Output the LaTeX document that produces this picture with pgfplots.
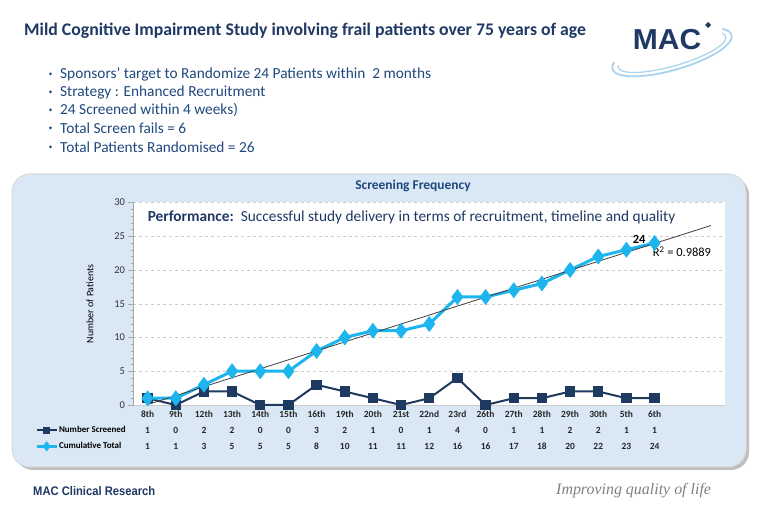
\documentclass[border=0pt]{standalone}
\usepackage{pgfplots}
\pgfplotsset{compat=1.18}
\usepackage{fontspec}
\setmainfont{Carlito}
\newfontfamily\arialf{Liberation Sans}
\newfontfamily\seriff{Liberation Serif}
\definecolor{navy}{HTML}{1F3864}
\definecolor{txtblue}{HTML}{1F497D}
\definecolor{panelblue}{HTML}{DAE7F5}
\definecolor{cyanl}{HTML}{1CB5EE}
\definecolor{navyl}{HTML}{1F3A60}
\definecolor{swoosh}{HTML}{A9D3EE}
\newcommand\tl[3]{\vphantom{Th}#1\\#2\\#3}
\begin{document}
\begin{tikzpicture}
\useasboundingbox (0,0) rectangle (768bp,526bp);
\fill[white] (0,0) rectangle (768bp,526bp);
\begin{scope}[x=1bp,y=-1bp,yshift=526bp]
 \node[anchor=west,inner sep=0,text=navy,font=\fontsize{17.8}{20}\selectfont\bfseries] at (24,31) {Mild Cognitive Impairment Study involving frail patients over 75 years of age};
 \begin{scope}[every node/.style={anchor=west,inner sep=0,text=txtblue,font=\fontsize{15.4}{17}\selectfont}]
  \node at (60,74) {Sponsors’ target to Randomize 24 Patients within \ 2 months};
  \node at (60,92) {Strategy : Enhanced Recruitment};
  \node at (60,110) {24 Screened within 4 weeks)};
  \node at (60,128) {Total Screen fails = 6};
  \node at (60,147) {Total Patients Randomised = 26};
 \end{scope}
 \foreach \yy in {74,92,110,128,147} \fill[txtblue] (50.5,\yy) circle[radius=1.5bp];
 % panel
 \fill[gray!50, rounded corners=18bp] (15,177) rectangle (749,470);
 \filldraw[fill=panelblue, draw=gray!30, line width=1bp, rounded corners=18bp] (12,174) rectangle (746,467);
 \node[inner sep=0,text=txtblue,font=\fontsize{13.5}{15}\selectfont\bfseries] at (413,186) {Screening Frequency};
 % footer
 \node[anchor=west,inner sep=0,text=navy,font=\arialf\bfseries\fontsize{12.5}{14}\selectfont] at (33,491) {\scalebox{0.9}[1]{MAC Clinical Research}};
 \node[anchor=west,inner sep=0,text=gray,font=\seriff\itshape\fontsize{16}{18}\selectfont] at (556,491) {Improving quality of life};
\end{scope}
% logo
\begin{scope}[rotate around={16:(672bp,474bp)}]
 \draw[swoosh, line width=1.8bp] (672bp,474bp) ++(160:62bp and 18bp) arc[start angle=160, end angle=388, x radius=62bp, y radius=18bp];
 \draw[swoosh, line width=1.2bp] (672bp,474bp) ++(172:56bp and 14bp) arc[start angle=172, end angle=378, x radius=56bp, y radius=14bp];
\end{scope}
\node[inner sep=0,text=navy,font=\arialf\bfseries\fontsize{29}{29}\selectfont] at (667bp,486bp) {\scalebox{1.04}[1]{MAC}};
\fill[navy] (708bp,504bp) -- (711bp,501bp) -- (708bp,498bp) -- (705bp,501bp) -- cycle;
% chart
\begin{axis}[
 at={(133.5bp,121bp)}, anchor=south west, scale only axis,
 width=591.5bp, height=202.5bp,
 xmin=-0.5, xmax=20.5, ymin=0, ymax=30,
 clip=false,
 axis x line*=bottom, axis y line*=left,
 x axis line style={draw=gray!40},
 y axis line style={draw=gray!70},
 axis background/.style={fill=white},
 ytick={0,5,...,30}, minor y tick num=4,
 tick align=outside, tickpos=left,
 major tick length=5bp, minor tick length=3bp,
 y tick style={gray!70},
 xtick={0,...,18},
 x tick style={draw=none},
 xticklabels={{\tl{8th}{1}{1}},{\tl{9th}{0}{1}},{\tl{12th}{2}{3}},{\tl{13th}{2}{5}},{\tl{14th}{0}{5}},{\tl{15th}{0}{5}},{\tl{16th}{3}{8}},{\tl{19th}{2}{10}},{\tl{20th}{1}{11}},{\tl{21st}{0}{11}},{\tl{22nd}{1}{12}},{\tl{23rd}{4}{16}},{\tl{26th}{0}{16}},{\tl{27th}{1}{17}},{\tl{28th}{1}{18}},{\tl{29th}{2}{20}},{\tl{30th}{2}{22}},{\tl{5th}{1}{23}},{\tl{6th}{1}{24}}},
 xticklabel style={align=center, font=\bfseries\fontsize{9.5}{15.8}\selectfont, text=black!85, anchor=north, inner sep=0pt, yshift=-0.8bp},
 yticklabel style={font=\fontsize{10.5}{12}\selectfont, text=black!80},
 /pgf/number format/assume math mode=true,
 ymajorgrids, grid style={dashed, gray!40},
 ylabel={Number of Patients},
 ylabel style={font=\fontsize{10}{11}\selectfont, at={(axis description cs:-0.0735,0.5)}, anchor=center},
 legend style={at={(axis description cs:-0.1665,-0.101)}, anchor=north west, draw=none, fill=none, inner sep=0pt, row sep=7bp,
   font=\bfseries\fontsize{9}{10}\selectfont, nodes={text height=6bp, text depth=1.5bp, inner sep=0.8bp}},
 legend cell align=left,
 legend image code/.code={\draw[mark repeat=2,mark phase=2,#1, mark size=2.6bp] plot coordinates {(0bp,0bp) (10bp,0bp) (20bp,0bp)};},
]
\addplot[navyl, line width=2bp, mark=square*, mark size=4.2bp, mark options={solid, fill=navyl}] coordinates {
(0,1) (1,0) (2,2) (3,2) (4,0) (5,0) (6,3) (7,2) (8,1) (9,0) (10,1) (11,4) (12,0) (13,1) (14,1) (15,2) (16,2) (17,1) (18,1)};
\addlegendentry{Number Screened}
\addplot[cyanl, line width=3bp, mark=diamond*, mark size=5.5bp, mark options={solid, fill=cyanl}] coordinates {
(0,1) (1,1) (2,3) (3,5) (4,5) (5,5) (6,8) (7,10) (8,11) (9,11) (10,12) (11,16) (12,16) (13,17) (14,18) (15,20) (16,22) (17,23) (18,24)};
\addlegendentry{Cumulative Total}
\addplot[black!75, line width=0.8bp, forget plot] coordinates {(0,0.063) (20,26.59)};
\node[font=\bfseries\fontsize{12.5}{13}\selectfont, inner sep=0] at (axis cs:17.45,24.5) {24};
\node[font=\fontsize{12.5}{13}\selectfont, anchor=west, inner sep=0] at (axis cs:17.93,22.67) {R\textsuperscript{2} = 0.9889};
\node[anchor=west, inner sep=0, text=navy, font=\fontsize{15.4}{17}\selectfont] at (axis cs:-0.0,27.8) {\textbf{Performance:}\ \ Successful study delivery in terms\ of recruitment,\ timeline and quality};
\end{axis}
\end{tikzpicture}
\end{document}
